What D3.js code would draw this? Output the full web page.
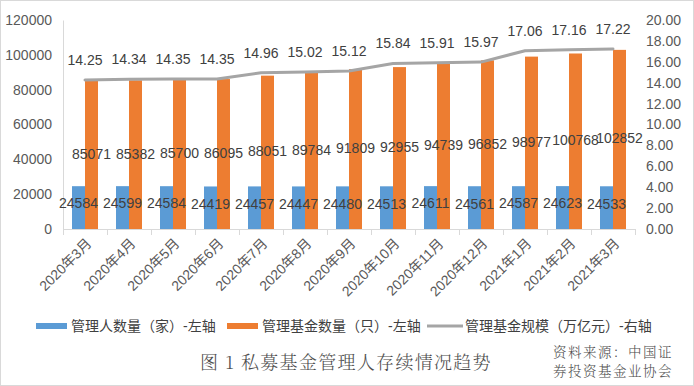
<!DOCTYPE html>
<html>
<head>
<meta charset="utf-8">
<script src="https://cdn.jsdelivr.net/npm/d3@7"></script>
<style>
  html, body { margin: 0; padding: 0; background: #fff; }
  svg text { font-family: "Liberation Sans", Arial, "Noto Sans CJK SC", sans-serif; }
</style>
</head>
<body>
<div class="chart"></div>
<script>
// --- data ---
const months = ["2020年3月", "2020年4月", "2020年5月", "2020年6月", "2020年7月", "2020年8月",
  "2020年9月", "2020年10月", "2020年11月", "2020年12月", "2021年1月", "2021年2月", "2021年3月"];
const managers = [24584, 24599, 24584, 24419, 24457, 24447, 24480, 24513, 24611, 24561, 24587, 24623, 24533];
const funds = [85071, 85382, 85700, 86095, 88051, 89784, 91809, 92955, 94739, 96852, 98977, 100768, 102852];
const scale = [14.25, 14.34, 14.35, 14.35, 14.96, 15.02, 15.12, 15.84, 15.91, 15.97, 17.06, 17.16, 17.22];
const leftTicks = [0, 20000, 40000, 60000, 80000, 100000, 120000];
const rightTicks = [0, 2, 4, 6, 8, 10, 12, 14, 16, 18, 20];
const seriesNames = ["管理人数量（家）-左轴", "管理基金数量（只）-左轴", "管理基金规模（万亿元）-右轴"];
const sourceLines = ["资料来源：中国证", "券投资基金业协会"];

const drawChart = () => {
    const W = 694, H = 386;
    const plot = { left: 63, right: 635, top: 20, bottom: 229 };
    const blue = "#5b9bd5", orange = "#ed7d31", grey = "#a5a5a5";

    const svg = d3.select(".chart").append("svg")
        .attr("width", W).attr("height", H);

    // outer frame
    svg.append("rect")
        .attr("x", 0.5).attr("y", 0.5)
        .attr("width", W - 1).attr("height", H - 1)
        .attr("fill", "#fff").attr("stroke", "#d9d9d9");

    // scales
    const x = d3.scaleBand().domain(months).range([plot.left, plot.right]);
    const xs = d3.scaleBand().domain(["m", "f"]).range([9, x.bandwidth() - 9]);
    const yL = d3.scaleLinear().domain([0, 120000]).range([plot.bottom, plot.top]);
    const yR = d3.scaleLinear().domain([0, 20]).range([plot.bottom, plot.top]);

    // left axis
    const gL = svg.append("g")
        .attr("transform", `translate(${plot.left},0)`)
        .call(d3.axisLeft(yL).tickValues(leftTicks).tickSize(0).tickPadding(11).tickFormat(d => d));
    gL.select(".domain").attr("stroke", "#d9d9d9");
    gL.selectAll("text").style("font-size", "14px").attr("fill", "#595959");

    // right axis
    const gR = svg.append("g")
        .attr("transform", `translate(${plot.right},0)`)
        .call(d3.axisRight(yR).tickValues(rightTicks).tickSize(0).tickPadding(11).tickFormat(d3.format(".2f")));
    gR.select(".domain").remove();
    gR.selectAll("text").style("font-size", "14px").attr("fill", "#595959");

    // bars
    const rows = months.map((m, i) => ({ m, mgr: managers[i], fund: funds[i], scale: scale[i] }));

    svg.selectAll(".bar-m").data(rows).enter().append("rect")
        .attr("x", d => x(d.m) + xs("m"))
        .attr("y", d => yL(d.mgr))
        .attr("width", xs.bandwidth())
        .attr("height", d => yL(0) - yL(d.mgr))
        .attr("fill", blue);

    svg.selectAll(".bar-f").data(rows).enter().append("rect")
        .attr("x", d => x(d.m) + xs("f"))
        .attr("y", d => yL(d.fund))
        .attr("width", xs.bandwidth())
        .attr("height", d => yL(0) - yL(d.fund))
        .attr("fill", orange);

    // bottom axis: line + ticks at category boundaries
    const gx = svg.append("g");
    gx.append("line")
        .attr("x1", plot.left).attr("x2", plot.right)
        .attr("y1", plot.bottom + 0.5).attr("y2", plot.bottom + 0.5)
        .attr("stroke", "#d9d9d9");
    gx.selectAll(".tk").data(months.concat(["_end"])).enter().append("line")
        .attr("x1", (d, i) => Math.round(i < months.length ? x(d) : plot.right) + 0.5)
        .attr("x2", (d, i) => Math.round(i < months.length ? x(d) : plot.right) + 0.5)
        .attr("y1", plot.bottom).attr("y2", plot.bottom + 6)
        .attr("stroke", "#d9d9d9");
    gx.selectAll(".xl").data(months).enter().append("text")
        .attr("transform", d => `translate(${x(d) + x.bandwidth() / 2 + 4},${plot.bottom + 12}) rotate(-45)`)
        .attr("text-anchor", "end")
        .attr("dy", "0.35em")
        .style("font-size", "14px")
        .attr("fill", "#595959")
        .text(d => d);

    // line
    const line = d3.line()
        .x(d => x(d.m) + x.bandwidth() / 2)
        .y(d => yR(d.scale));
    svg.append("path").datum(rows)
        .attr("d", line)
        .attr("fill", "none")
        .attr("stroke", grey)
        .attr("stroke-width", 3)
        .attr("stroke-linejoin", "round")
        .attr("stroke-linecap", "round");

    // data labels
    const lbl = (sel) => sel.attr("text-anchor", "middle").attr("dy", "0.35em")
        .style("font-size", "14px").attr("fill", "#404040");

    svg.selectAll(".lm").data(rows).enter().append("text")
        .attr("x", d => x(d.m) + xs("m") + xs.bandwidth() / 2)
        .attr("y", d => (yL(d.mgr) + yL(0)) / 2 - 4)
        .call(lbl).text(d => d.mgr);

    svg.selectAll(".lf").data(rows).enter().append("text")
        .attr("x", d => x(d.m) + xs("f") + xs.bandwidth() / 2)
        .attr("y", d => (yL(d.fund) + yL(0)) / 2 - 1)
        .call(lbl).text(d => d.fund);

    svg.selectAll(".ls").data(rows).enter().append("text")
        .attr("x", d => x(d.m) + x.bandwidth() / 2)
        .attr("y", d => yR(d.scale) - 20)
        .call(lbl).text(d => d.scale.toFixed(2));

    // legend
    const legY = 326;
    const legX = [36, 227, 427];
    const lg = svg.append("g");
    legX.forEach((lx, i) => {
        if (i < 2) {
            lg.append("rect").attr("x", lx).attr("y", legY - 3)
                .attr("width", 31).attr("height", 6)
                .attr("fill", i === 0 ? blue : orange);
        } else {
            lg.append("line").attr("x1", lx).attr("x2", lx + 36)
                .attr("y1", legY).attr("y2", legY)
                .attr("stroke", grey).attr("stroke-width", 3);
        }
        lg.append("text")
            .attr("x", lx + (i < 2 ? 35 : 38)).attr("y", legY)
            .attr("dy", "0.35em")
            .style("font-size", "14px")
            .attr("fill", "#404040")
            .text(seriesNames[i]);
    });

    // caption + source
    const serif = "'Noto Serif CJK SC', 'Liberation Serif', 'Noto Sans CJK SC', serif";
    svg.append("text")
        .attr("x", 200).attr("y", 363)
        .attr("dy", "0.35em")
        .style("font-family", serif)
        .style("font-size", "18px")
        .style("letter-spacing", "1.3px")
        .style("font-weight", "300")
        .attr("fill", "#4d4d4d")
        .text("图 1  私募基金管理人存续情况趋势");

    svg.selectAll(".src").data(sourceLines).enter().append("text")
        .attr("x", 553)
        .attr("y", (d, i) => 352 + i * 19)
        .attr("dy", "0.35em")
        .style("font-family", serif)
        .style("font-size", "13.5px")
        .style("letter-spacing", "1.5px")
        .style("font-weight", "300")
        .attr("fill", "#4d4d4d")
        .text(d => d);
};

drawChart();
</script>
</body>
</html>
